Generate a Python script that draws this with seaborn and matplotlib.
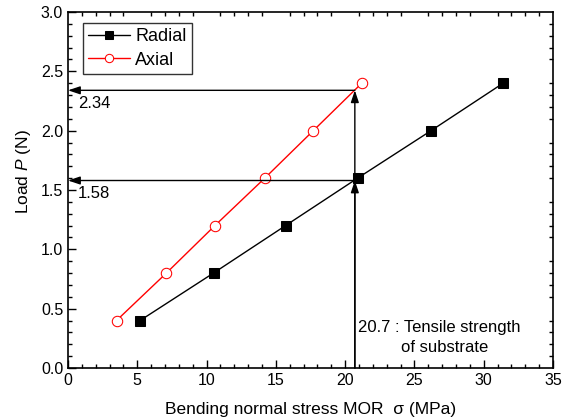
import matplotlib
matplotlib.use("Agg")
import matplotlib.pyplot as plt
import seaborn as sns
import pandas as pd
from matplotlib.ticker import MultipleLocator, FormatStrFormatter

radial_x = [5.2, 10.5, 15.7, 20.9, 26.2, 31.4]
radial_y = [0.4, 0.8, 1.2, 1.6, 2.0, 2.4]
axial_x = [3.5, 7.1, 10.6, 14.2, 17.7, 21.2]
axial_y = [0.4, 0.8, 1.2, 1.6, 2.0, 2.4]
strength_x = 20.7
load_marks = [2.34, 1.58]
load_labels = ["2.34", "1.58"]

sns.set_theme(style="ticks")
plt.rcParams['font.family'] = ['Liberation Sans', 'DejaVu Sans']
plt.rcParams['mathtext.fontset'] = 'custom'
plt.rcParams['mathtext.it'] = 'Liberation Sans:italic'
plt.rcParams['mathtext.rm'] = 'Liberation Sans'
for k in ['text.color', 'axes.labelcolor', 'xtick.color', 'ytick.color', 'axes.edgecolor']:
    plt.rcParams[k] = 'black'

fig = plt.figure(figsize=(5.66, 4.2), dpi=100)
ax = fig.add_axes([68/566, 1 - 368/420, (553-68)/566, (368-12)/420])

df_r = pd.DataFrame({"x": radial_x, "y": radial_y})
df_a = pd.DataFrame({"x": axial_x, "y": axial_y})
sns.lineplot(data=df_r, x="x", y="y", ax=ax, color="black", lw=1, marker="s",
             markersize=7, markerfacecolor="black", markeredgecolor="black",
             label="Radial", sort=False)
sns.lineplot(data=df_a, x="x", y="y", ax=ax, color="red", lw=1, marker="o",
             markersize=7.5, markerfacecolor="white", markeredgecolor="red",
             label="Axial", sort=False)

# arrows
arrow_kw = dict(arrowstyle="-|>,head_length=0.6,head_width=0.2", color="black", lw=1,
                shrinkA=0, shrinkB=0)
ax.annotate("", xy=(strength_x, load_marks[0]), xytext=(strength_x, 0), arrowprops=arrow_kw)
ax.annotate("", xy=(strength_x, load_marks[1]), xytext=(strength_x, 0), arrowprops=arrow_kw)
for yv, lab in zip(load_marks, load_labels):
    ax.annotate("", xy=(0, yv), xytext=(strength_x, yv), arrowprops=arrow_kw)
    ax.text(0.7, yv - 0.045, lab, fontsize=12, va="top", ha="left")

ax.text(strength_x + 0.25, 0.345, "20.7 : Tensile strength", fontsize=12, va="center", ha="left")
ax.text(strength_x + 3.3, 0.17, "of substrate", fontsize=12, va="center", ha="left")

ax.set_xlim(0, 35)
ax.set_ylim(0, 3.0)
ax.xaxis.set_major_locator(MultipleLocator(5))
ax.xaxis.set_minor_locator(MultipleLocator(1))
ax.yaxis.set_major_locator(MultipleLocator(0.5))
ax.yaxis.set_minor_locator(MultipleLocator(0.1))
ax.xaxis.set_major_formatter(FormatStrFormatter('%d'))
ax.yaxis.set_major_formatter(FormatStrFormatter('%.1f'))
ax.tick_params(which="both", direction="in", top=True, right=True, colors="black",
               labelsize=11.5, width=1)
ax.tick_params(which="major", length=6)
ax.tick_params(which="minor", length=3)
ax.tick_params(axis="x", which="major", top=False)
ax.tick_params(axis="y", which="major", right=False)
for s in ax.spines.values():
    s.set_linewidth(1.2)
    s.set_color("black")

ax.set_xlabel("Bending normal stress MOR  σ (MPa)", fontsize=12.5, labelpad=10)
ax.set_ylabel("Load $\\it{P}$ (N)", fontsize=12.5)
ax.yaxis.set_label_coords(-0.072, 0.553)

leg = ax.legend(loc="upper left", fontsize=13, frameon=True, fancybox=False,
                edgecolor="black", borderpad=0.3, handlelength=2.3, handletextpad=0.3,
                bbox_to_anchor=(0.031, 0.969), borderaxespad=0, labelspacing=0.35,
                markerscale=0.8)
leg.get_frame().set_linewidth(1)

fig.savefig("out.png", dpi=100)
